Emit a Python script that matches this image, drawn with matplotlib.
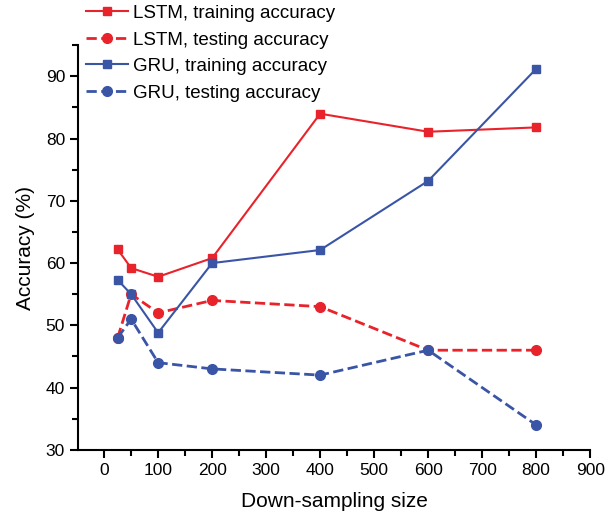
import matplotlib
matplotlib.use('Agg')
import matplotlib.pyplot as plt
from matplotlib.ticker import MultipleLocator

plt.rcParams['font.family'] = ['Liberation Sans', 'DejaVu Sans']

# Down-sampling sizes and accuracies (%)
sizes = [25, 50, 100, 200, 400, 600, 800]
lstm_train = [62.2, 59.2, 57.8, 60.8, 84.0, 81.1, 81.8]
lstm_test = [48.0, 55.0, 52.0, 54.0, 53.0, 46.0, 46.0]
gru_train = [57.3, 55.0, 48.8, 60.0, 62.1, 73.2, 91.2]
gru_test = [48.0, 51.0, 44.0, 43.0, 42.0, 46.0, 34.0]

red = '#e8232b'
blue = '#3a55a6'

fig = plt.figure(figsize=(6.16, 5.2), dpi=100)
ax = fig.add_axes([0.127, 0.135, 0.831, 0.778])

ax.plot(sizes, lstm_train, color=red, marker='s', markersize=6, lw=1.5,
        label='LSTM, training accuracy')
ax.plot(sizes, lstm_test, color=red, marker='o', markersize=7, lw=2, ls='--',
        label='LSTM, testing accuracy')
ax.plot(sizes, gru_train, color=blue, marker='s', markersize=6, lw=1.5,
        label='GRU, training accuracy')
ax.plot(sizes, gru_test, color=blue, marker='o', markersize=7, lw=2, ls='--',
        label='GRU, testing accuracy')

ax.set_xlim(-48, 900)
ax.set_ylim(30, 95)
ax.xaxis.set_major_locator(MultipleLocator(100))
ax.xaxis.set_minor_locator(MultipleLocator(50))
ax.yaxis.set_major_locator(MultipleLocator(10))
ax.yaxis.set_minor_locator(MultipleLocator(5))
ax.spines['top'].set_visible(False)
ax.spines['right'].set_visible(False)
for s in ['left', 'bottom']:
    ax.spines[s].set_linewidth(1.5)
ax.tick_params(which='major', length=6, width=1.5, labelsize=12.5, direction='out')
ax.tick_params(which='minor', length=4, width=1.5, direction='out')

ax.set_xlabel('Down-sampling size', fontsize=15, labelpad=10)
ax.set_ylabel('Accuracy (%)', fontsize=15, labelpad=8)

fig.legend(loc='upper left', bbox_to_anchor=(0.128, 1.005), frameon=False,
           fontsize=13.5, handlelength=2.2, handletextpad=0.3, labelspacing=0.5,
           borderaxespad=0)

fig.savefig('out.png', dpi=100)
